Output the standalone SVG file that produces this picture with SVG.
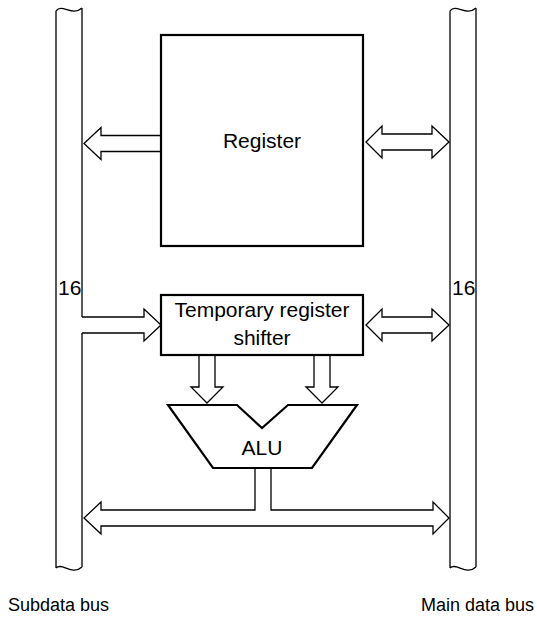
<svg xmlns="http://www.w3.org/2000/svg" width="537" height="620" viewBox="0 0 537 620">
<style>
.bus{fill:none;stroke:#000;stroke-width:1.3;stroke-linejoin:miter}
.box{fill:#fff;stroke:#000;stroke-width:2.2}
.arr{fill:#fff;stroke:#000;stroke-width:1.3;stroke-linejoin:miter}
.t{font-family:"Liberation Sans",Arial,sans-serif;font-size:21px;fill:#000}
.s{font-size:18px}
.m{text-anchor:middle}
</style>
<rect width="537" height="620" fill="#fff"/>
<g id="subdata-bus">
<path class="bus" d="M56,11 C62,3 72,17 82,8 M56,11 V568 M82,8 V317 M82,333 V567 M56,568 C62,562 72,576 82,567"/>
<text class="t" x="58" y="295">16</text>
<text class="t s" x="8" y="611">Subdata bus</text>
</g>
<g id="main-data-bus">
<path class="bus" d="M450,11 C456,3 466,17 476,8 M450,11 V568 M476,8 V567 M450,568 C456,562 466,576 476,567"/>
<text class="t" x="452" y="295">16</text>
<text class="t s" x="534" y="611" text-anchor="end">Main data bus</text>
</g>
<g id="connectors">
<path class="arr" d="M161,135.5 H101 V127.5 L84,143.5 L101,159.5 V151.5 H161"/>
<path class="arr" d="M366,142 L382,126 V134 H432 V126 L449,142 L432,158 V150 H382 V158 Z"/>
<path class="arr" d="M82,317 H144 V309 L161,325 L144,341 V333 H82"/>
<path class="arr" d="M366,325 L382,309 V317 H432 V309 L449,325 L432,341 V333 H382 V341 Z"/>
<path class="arr" d="M199,355 V387 H191 L207,403 L223,387 H215 V355"/>
<path class="arr" d="M314,355 V387 H306 L322,403 L338,387 H330 V355"/>
<path class="arr" d="M255,468 V510 H101 V502 L84,518 L101,534 V526 H433 V534 L449,518 L433,502 V510 H271 V468"/>
</g>
<g id="register">
<rect class="box" x="161" y="35" width="202" height="211" fill="none"/>
<text class="t m" x="262" y="148">Register</text>
</g>
<g id="temp-register">
<rect class="box" x="161" y="295" width="202" height="60"/>
<text class="t m" x="262" y="317">Temporary register</text>
<text class="t m" x="262" y="345">shifter</text>
</g>
<g id="alu">
<polygon class="box" points="168,405 237,405 262,428 288,405 357,405 312,468 213,468"/>
<text class="t m" x="262" y="455">ALU</text>
</g>
</svg>
